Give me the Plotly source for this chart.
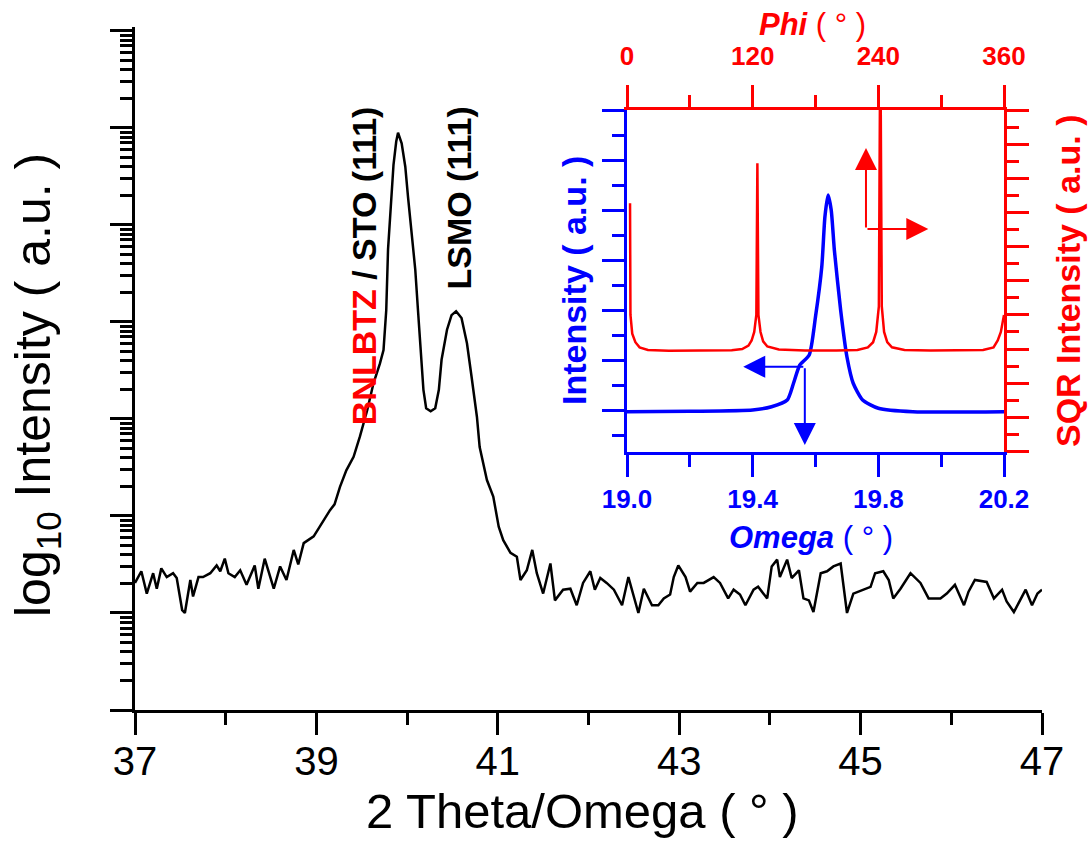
import numpy as np
import plotly.graph_objects as go

# ---------------- data ----------------
two_theta = [37.00, 37.07, 37.13, 37.20, 37.24, 37.29, 37.35, 37.42, 37.46, 37.52,
             37.55, 37.61, 37.64, 37.70, 37.75, 37.83, 37.90, 37.94, 37.99, 38.03,
             38.10, 38.16, 38.23, 38.32, 38.36, 38.43, 38.53, 38.60, 38.67, 38.75,
             38.80, 38.86, 38.97, 39.08, 39.15, 39.20, 39.26, 39.33, 39.41, 39.48,
             39.56, 39.63, 39.70, 39.74, 39.77, 39.79, 39.82, 39.85, 39.88, 39.90,
             39.94, 39.98, 40.01, 40.05, 40.09, 40.12, 40.15, 40.18, 40.21, 40.26,
             40.31, 40.35, 40.38, 40.44, 40.49, 40.54, 40.60, 40.66, 40.71, 40.77,
             40.80, 40.88, 40.95, 41.01, 41.06, 41.14, 41.21, 41.25, 41.32, 41.38,
             41.43, 41.50, 41.58, 41.63, 41.72, 41.80, 41.87, 41.94, 42.02, 42.07,
             42.13, 42.20, 42.28, 42.37, 42.44, 42.55, 42.61, 42.70, 42.77, 42.83,
             42.90, 42.94, 42.99, 43.07, 43.12, 43.20, 43.27, 43.32, 43.38, 43.45,
             43.54, 43.60, 43.67, 43.73, 43.82, 43.87, 43.97, 44.02, 44.08, 44.11,
             44.19, 44.24, 44.32, 44.37, 44.43, 44.48, 44.56, 44.63, 44.70, 44.78,
             44.81, 44.85, 44.92, 45.03, 45.11, 45.16, 45.25, 45.31, 45.36, 45.44,
             45.55, 45.66, 45.75, 45.88, 45.95, 46.04, 46.14, 46.19, 46.26, 46.39,
             46.47, 46.56, 46.61, 46.69, 46.82, 46.89, 46.95, 47.00]
log_intensity = [1.31, 1.43, 1.20, 1.41, 1.25, 1.46, 1.37, 1.41, 1.36, 1.03,
                 1.00, 1.34, 1.17, 1.37, 1.37, 1.41, 1.49, 1.43, 1.56, 1.41,
                 1.37, 1.44, 1.29, 1.49, 1.25, 1.56, 1.25, 1.48, 1.34, 1.65,
                 1.50, 1.72, 1.79, 1.96, 2.06, 2.12, 2.30, 2.47, 2.61, 2.82,
                 3.09, 3.37, 3.57, 3.71, 4.12, 4.75, 5.25, 5.62, 5.86, 5.95,
                 5.84, 5.60, 5.29, 4.95, 4.54, 4.12, 3.71, 3.30, 3.11, 3.08,
                 3.11, 3.30, 3.61, 3.92, 4.07, 4.11, 4.04, 3.78, 3.44, 3.02,
                 2.71, 2.37, 2.20, 1.89, 1.75, 1.62, 1.58, 1.34, 1.44, 1.65,
                 1.41, 1.20, 1.51, 1.13, 1.24, 1.25, 1.08, 1.31, 1.43, 1.24,
                 1.36, 1.31, 1.24, 1.08, 1.37, 1.00, 1.25, 1.08, 1.08, 1.15,
                 1.19, 1.37, 1.49, 1.37, 1.22, 1.31, 1.31, 1.34, 1.37, 1.31,
                 1.15, 1.24, 1.19, 1.08, 1.24, 1.27, 1.15, 1.48, 1.55, 1.37,
                 1.55, 1.36, 1.44, 1.15, 1.13, 1.01, 1.41, 1.43, 1.48, 1.51,
                 1.27, 1.00, 1.20, 1.24, 1.27, 1.41, 1.43, 1.34, 1.15, 1.25,
                 1.41, 1.31, 1.15, 1.15, 1.20, 1.29, 1.08, 1.22, 1.34, 1.32,
                 1.15, 1.24, 1.12, 1.01, 1.24, 1.08, 1.20, 1.24]

omega = [19.00, 19.20, 19.40, 19.46, 19.51, 19.53, 19.55, 19.58, 19.60, 19.62,
         19.63, 19.64, 19.65, 19.66, 19.68, 19.70, 19.72, 19.75, 19.80, 19.91, 20.20]
omega_intensity = [1.93, 1.95, 2.00, 2.13, 2.40, 3.07, 3.80, 4.20, 5.73, 7.73,
                   9.73, 10.60, 10.00, 8.40, 6.00, 4.13, 3.07, 2.40, 2.07, 1.93, 1.93]

phi = [2.9, 3.3, 5.0, 8.0, 12.0, 20.0, 40.0, 60.0, 80.0, 100.0, 110.0, 116.0,
       119.0, 121.5, 123.5, 124.5, 125.5, 127.5, 130.0, 134.0, 145.0, 170.0,
       200.0, 220.0, 230.0, 235.0, 238.0, 240.5, 241.9, 243.3, 245.5, 248.5,
       253.0, 265.0, 290.0, 320.0, 340.0, 350.0, 354.0, 357.0, 359.0, 360.0]
sqr_intensity = [14.54, 8.0, 6.9, 6.4, 6.1, 5.95, 5.90, 5.92, 5.90, 5.93, 6.0, 6.2,
                 6.5, 7.0, 8.0, 16.88, 8.0, 7.0, 6.45, 6.15, 5.98, 5.92,
                 5.92, 5.95, 6.1, 6.4, 7.0, 8.5, 25.0, 8.5, 7.0, 6.4,
                 6.1, 5.95, 5.92, 5.92, 5.95, 6.1, 6.5, 7.0, 7.6, 8.0]

main_x_ticks = [37, 39, 41, 43, 45, 47]
main_x_minor = [38, 40, 42, 44, 46]
main_y_decades = [0, 1, 2, 3, 4, 5, 6, 7]
omega_ticks = [19.0, 19.4, 19.8, 20.2]
omega_ticktext = ["19.0", "19.4", "19.8", "20.2"]
omega_minor = [19.2, 19.6, 20.0]
phi_ticks = [0, 120, 240, 360]
phi_minor = [60, 180, 300]

# ---------------- styling ----------------
FONT = "Liberation Sans, Arial, sans-serif"
BLUE = "#0000FF"
RED = "#FF0000"
W, H = 1089, 854
L, R, T, B = 135, 47, 27, 144
PW, PH = W - L - R, H - T - B


def px2paper_x(px):
    return (px - L) / PW


def px2paper_y(py):
    return (H - B - py) / PH


y_minor = [n + np.log10(k) for n in range(7) for k in range(2, 10)]

fig = go.Figure()
fig.add_trace(go.Scatter(x=two_theta, y=log_intensity, mode="lines",
                         line=dict(color="black", width=2.5),
                         xaxis="x", yaxis="y", showlegend=False))
fig.add_trace(go.Scatter(x=omega, y=omega_intensity, mode="lines",
                         line=dict(color=BLUE, width=3.5, shape="spline", smoothing=0.6),
                         xaxis="x2", yaxis="y2", showlegend=False))
fig.add_trace(go.Scatter(x=phi, y=sqr_intensity, mode="lines",
                         line=dict(color=RED, width=2.5),
                         xaxis="x3", yaxis="y3", showlegend=False))


def axis_common(color):
    return dict(showline=True, linewidth=3, linecolor=color, ticks="outside",
                ticklen=22, tickwidth=3, tickcolor=color, showgrid=False,
                zeroline=False)


def minor_ticks(vals, color):
    return dict(tickmode="array", tickvals=vals, ticks="outside",
                ticklen=12, tickwidth=3, tickcolor=color, showgrid=False)


inset_x = [px2paper_x(627), px2paper_x(1004)]
inset_y = [px2paper_y(451.5), px2paper_y(110)]

fig.update_layout(
    width=W, height=H,
    margin=dict(l=L, r=R, t=T, b=B),
    paper_bgcolor="white", plot_bgcolor="rgba(0,0,0,0)",
    showlegend=False,
    xaxis=dict(**axis_common("black"), domain=[0, 1], range=[37, 47], anchor="y",
               tickmode="array", tickvals=main_x_ticks,
               ticktext=[str(v) for v in main_x_ticks],
               tickfont=dict(family=FONT, size=40, color="black"),
               ticklabelstandoff=-8,
               minor=minor_ticks(main_x_minor, "black")),
    yaxis=dict(**axis_common("black"), domain=[0, 1], range=[0, 7.04], anchor="x",
               tickmode="array", tickvals=main_y_decades, showticklabels=False,
               minor=minor_ticks(y_minor, "black")),
    xaxis2=dict(**axis_common(BLUE), domain=inset_x, range=[19.0, 20.2], anchor="y2",
                tickmode="array", tickvals=omega_ticks, ticktext=omega_ticktext,
                tickfont=dict(family=FONT, size=26, color=BLUE, weight="bold"),
                ticklabelstandoff=0,
                minor=minor_ticks(omega_minor, BLUE)),
    yaxis2=dict(**axis_common(BLUE), domain=inset_y, range=[0.34, 14], anchor="x2",
                tickmode="array", tickvals=list(range(2, 15, 2)), showticklabels=False,
                minor=minor_ticks(list(range(1, 14, 2)), BLUE)),
    xaxis3=dict(**axis_common(RED), overlaying="x2", side="top", range=[0, 360],
                anchor="y3", tickmode="array", tickvals=phi_ticks,
                ticktext=[str(v) for v in phi_ticks],
                tickfont=dict(family=FONT, size=26, color=RED, weight="bold"),
                ticklabelstandoff=10,
                minor=minor_ticks(phi_minor, RED)),
    yaxis3=dict(**axis_common(RED), overlaying="y2", side="right", range=[0, 20],
                anchor="x3", tickmode="array", tickvals=list(range(0, 21, 2)),
                showticklabels=False,
                minor=minor_ticks(list(range(1, 20, 2)), RED)),
)

ann = []
# axis titles
ann.append(dict(text="2 Theta/Omega ( ° )", xref="paper", yref="paper",
                x=px2paper_x(582), y=px2paper_y(811), showarrow=False,
                font=dict(family=FONT, size=49, color="black"),
                xanchor="center", yanchor="middle"))
ann.append(dict(text="log<sub>10</sub> Intensity ( a.u. )", xref="paper", yref="paper",
                x=px2paper_x(36), y=px2paper_y(385), showarrow=False, textangle=-90,
                font=dict(family=FONT, size=50, color="black"),
                xanchor="center", yanchor="middle"))
# peak labels
ann.append(dict(text="<b><span style='color:#FF0000'>BNLBTZ</span> / STO (111)</b>",
                xref="x", yref="y", x=39.52, y=4.58, showarrow=False, textangle=-90,
                font=dict(family=FONT, size=34, color="black"),
                xanchor="center", yanchor="middle"))
ann.append(dict(text="<b>LSMO (111)</b>", xref="x", yref="y", x=40.57, y=5.28,
                showarrow=False, textangle=-90,
                font=dict(family=FONT, size=34, color="black"),
                xanchor="center", yanchor="middle"))
# inset titles
ann.append(dict(text="<b>Intensity ( a.u. )</b>", xref="paper", yref="paper",
                x=px2paper_x(574), y=px2paper_y(281), showarrow=False, textangle=-90,
                font=dict(family=FONT, size=34, color=BLUE),
                xanchor="center", yanchor="middle"))
ann.append(dict(text="<b>SQR Intensity ( a.u. )</b>", xref="paper", yref="paper",
                x=px2paper_x(1068), y=px2paper_y(281), showarrow=False, textangle=-90,
                font=dict(family=FONT, size=34, color=RED),
                xanchor="center", yanchor="middle"))
ann.append(dict(text="<b><i>Omega</i></b> ( ° )", xref="paper", yref="paper",
                x=px2paper_x(811), y=px2paper_y(537), showarrow=False,
                font=dict(family=FONT, size=31, color=BLUE),
                xanchor="center", yanchor="middle"))
ann.append(dict(text="<b><i>Phi</i></b> ( ° )", xref="paper", yref="paper",
                x=px2paper_x(812), y=px2paper_y(24), showarrow=False,
                font=dict(family=FONT, size=31, color=RED),
                xanchor="center", yanchor="middle"))
# arrows
arrow_style = dict(showarrow=True, text="", arrowhead=2, arrowsize=2.2, arrowwidth=2)
ann.append(dict(**arrow_style, xref="x2", yref="y2", axref="x2", ayref="y2",
                x=19.37, y=3.73, ax=19.566, ay=3.73, arrowcolor=BLUE))
ann.append(dict(**arrow_style, xref="x2", yref="y2", axref="x2", ayref="y2",
                x=19.566, y=0.6, ax=19.566, ay=3.73, arrowcolor=BLUE))
ann.append(dict(**arrow_style, xref="x3", yref="y3", axref="x3", ayref="y3",
                x=228.2, y=17.78, ax=228.2, ay=13.03, arrowcolor=RED))
ann.append(dict(**arrow_style, xref="x3", yref="y3", axref="x3", ayref="y3",
                x=287.7, y=13.03, ax=228.2, ay=13.03, arrowcolor=RED))
fig.update_layout(annotations=ann)

fig.write_html("out.html")
